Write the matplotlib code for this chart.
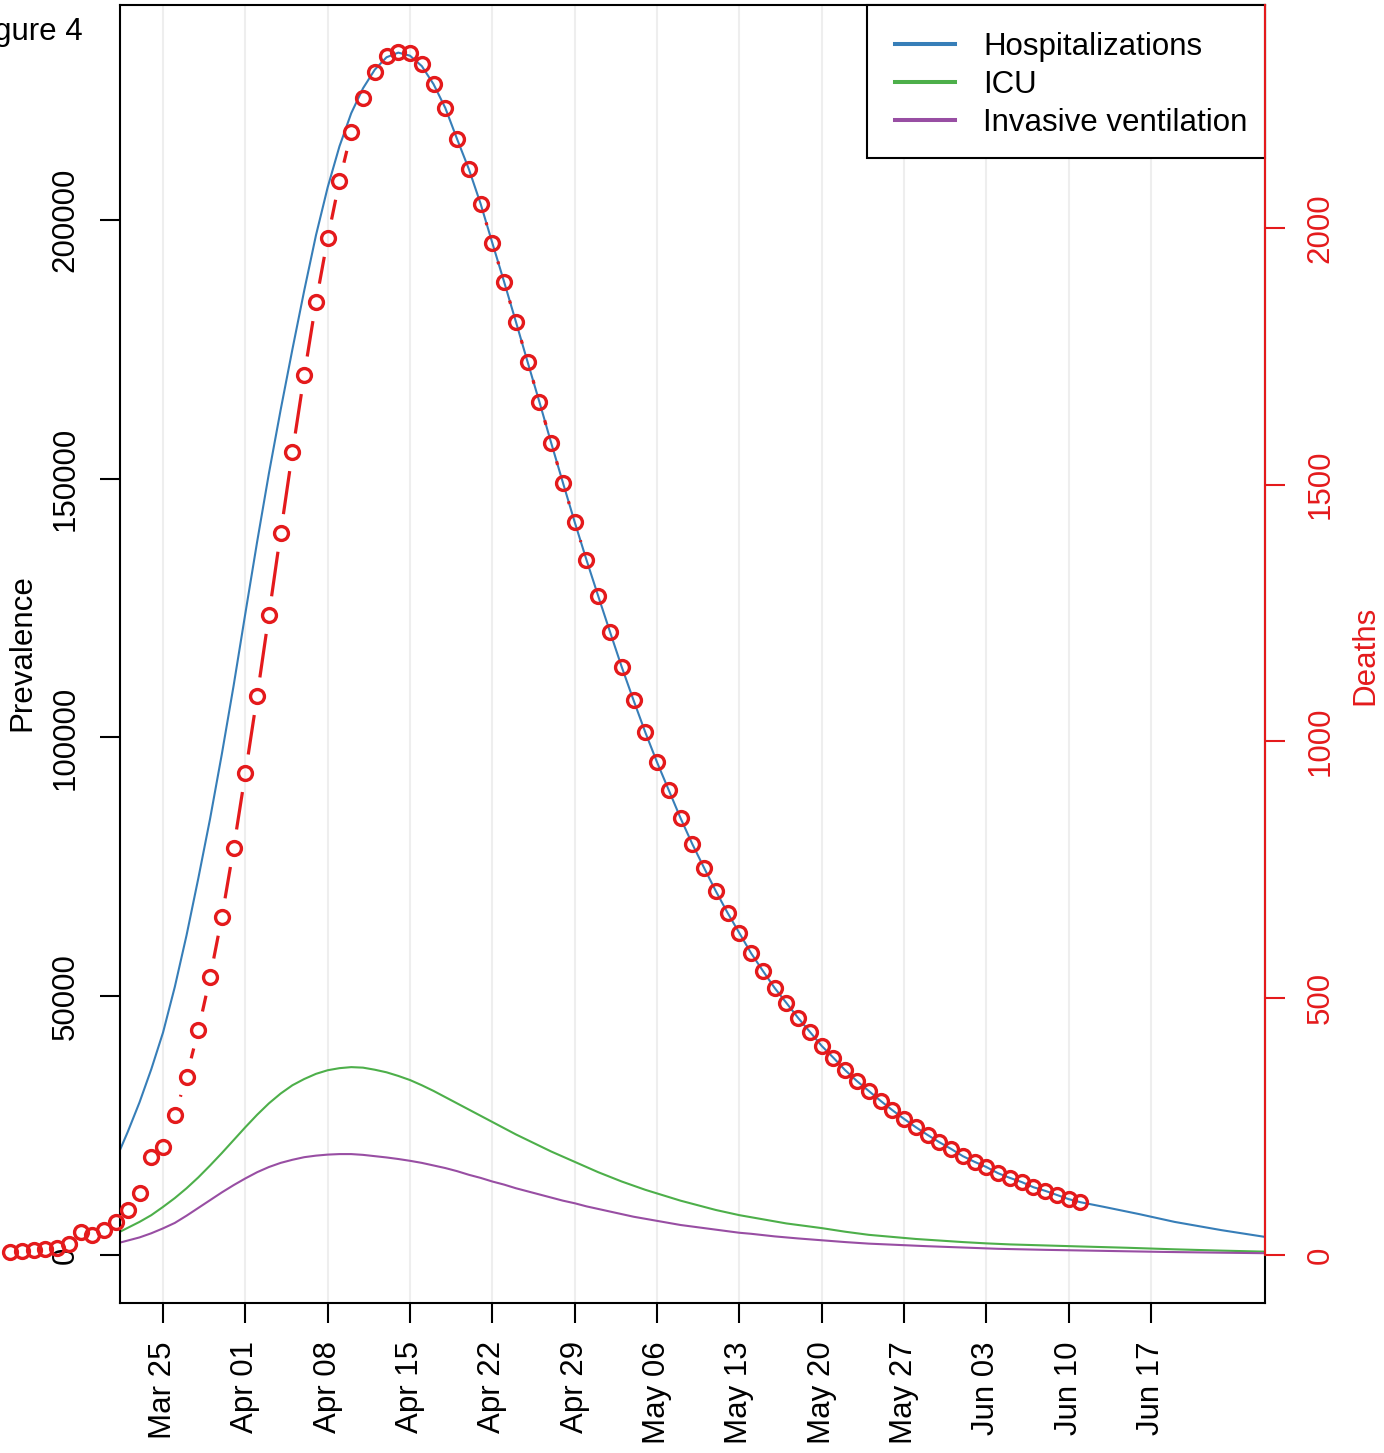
import numpy as np
import matplotlib
matplotlib.use("Agg")
import matplotlib.pyplot as plt
from matplotlib.patches import Rectangle

plt.rcParams['font.family'] = ['Liberation Sans', 'DejaVu Sans']

# x values are days counted from Mar 25
tick_days = [0, 7, 14, 21, 28, 35, 42, 49, 56, 63, 70, 77, 84]
tick_labels = ['Mar 25', 'Apr 01', 'Apr 08', 'Apr 15', 'Apr 22', 'Apr 29', 'May 06',
               'May 13', 'May 20', 'May 27', 'Jun 03', 'Jun 10', 'Jun 17']

hosp_days = [-3.66, -3, -2, -1, 0, 1, 2, 3, 4, 5, 6, 7, 8, 9, 10, 11, 12, 13, 14, 15,
             16, 17, 18, 19, 20, 21, 22, 23, 24, 25, 26, 27, 28, 29, 30, 31, 32, 33, 34,
             35, 36, 37, 38, 39, 40, 41, 42, 43, 44, 45, 46, 47, 48, 49, 50, 51, 52, 53,
             54, 55, 56, 57, 58, 59, 60, 61, 62, 63, 64, 65, 66, 67, 68, 69, 70, 71, 72,
             73, 74, 75, 76, 77, 78, 80, 83, 86, 90, 93.69]
hosp = [20300, 23800, 29500, 35900, 43000, 51800, 61800, 72800, 84300, 96800, 110000,
        124000, 137800, 151000, 163300, 175000, 186300, 197000, 206300, 214200, 220600,
        225400, 229000, 231400, 232300, 231700, 229700, 226200, 221600, 215600, 209800,
        203100, 195500, 188000, 180300, 172500, 164800, 156900, 149200, 141600, 134300,
        127300, 120400, 113600, 107200, 101000, 95200, 89800, 84400, 79400, 74800, 70300,
        66100, 62200, 58300, 54900, 51600, 48700, 45800, 43100, 40400, 38100, 35700,
        33600, 31700, 29800, 28000, 26300, 24700, 23200, 21800, 20500, 19100, 18000,
        17000, 15800, 14900, 14100, 13100, 12400, 11600, 10800, 10200, 9300, 7900, 6400,
        4800, 3500]

icu_days = [-3.66, -2, -1, 0, 1, 2, 3, 4, 5, 6, 7, 8, 9, 10, 11, 12, 13, 14, 15, 16, 17,
            18, 19, 20, 21, 22, 23, 24, 25, 26, 27, 28, 29, 30, 31, 32, 33, 34, 35, 36,
            37, 38, 39, 40, 41, 42, 43, 44, 45, 46, 47, 48, 49, 50, 51, 52, 53, 54, 55,
            56, 58, 60, 62, 64, 66, 68, 70, 72, 75, 78, 82, 86, 90, 93.69]
icu = [4500, 6400, 7700, 9300, 11000, 12900, 15000, 17300, 19700, 22200, 24700, 27100,
       29300, 31200, 32800, 34000, 35000, 35700, 36100, 36300, 36200, 35800, 35300, 34600,
       33800, 32800, 31700, 30500, 29300, 28100, 26900, 25700, 24500, 23300, 22200, 21100,
       20000, 19000, 18000, 17000, 16000, 15100, 14200, 13400, 12600, 11900, 11200, 10500,
       9900, 9300, 8700, 8200, 7700, 7300, 6900, 6500, 6100, 5800, 5500, 5200, 4500, 3900,
       3500, 3100, 2800, 2500, 2250, 2050, 1850, 1650, 1400, 1100, 850, 650]

vent_days = [-3.66, -2, -1, 0, 1, 2, 3, 4, 5, 6, 7, 8, 9, 10, 11, 12, 13, 14, 15, 16, 17,
             18, 19, 20, 21, 22, 23, 24, 25, 26, 27, 28, 29, 30, 31, 32, 33, 34, 35, 36,
             37, 38, 39, 40, 41, 42, 43, 44, 45, 46, 47, 48, 49, 50, 52, 54, 56, 58, 60,
             62, 65, 68, 71, 75, 80, 85, 90, 93.69]
vent = [2400, 3400, 4200, 5150, 6200, 7600, 9100, 10600, 12100, 13500, 14800, 16000,
        17000, 17800, 18400, 18900, 19200, 19400, 19500, 19500, 19350, 19100, 18850, 18550,
        18200, 17800, 17300, 16800, 16200, 15500, 14900, 14200, 13600, 12900, 12300, 11700,
        11100, 10500, 10000, 9400, 8900, 8400, 7900, 7400, 7000, 6600, 6200, 5800, 5500,
        5200, 4900, 4600, 4300, 4100, 3600, 3200, 2850, 2500, 2200, 2000, 1700, 1450, 1200,
        1000, 800, 600, 450, 350]

# daily deaths, Mar 12 .. Jun 11
death_days = list(range(-13, 79))
deaths = [6, 8, 10, 12, 14, 21, 45, 39, 49, 64, 88, 121, 191, 210, 273, 347, 438, 541,
          658, 792, 938, 1088, 1246, 1406, 1563, 1713, 1855, 1980, 2091, 2186, 2253, 2303,
          2334, 2342, 2340, 2319, 2280, 2233, 2173, 2114, 2046, 1970, 1894, 1817, 1739,
          1661, 1581, 1503, 1427, 1353, 1283, 1213, 1145, 1081, 1018, 960, 905, 851, 800,
          753, 709, 666, 627, 588, 553, 520, 491, 461, 434, 407, 384, 360, 339, 319, 300,
          282, 265, 249, 234, 220, 206, 193, 181, 171, 160, 150, 142, 132, 125, 117, 109,
          103]

blue, green, purple, red = '#377EB8', '#4DAF4A', '#984EA3', '#E41A1C'
fs = 22.5

fig = plt.figure(figsize=(13.84, 14.53), dpi=100)
ax = fig.add_axes([120/1384, 1-1303/1453, (1265-120)/1384, (1303-5)/1453])
ax.set_xlim(-3.66, 93.69)
ax.set_ylim(-9270, 241500)

for d in tick_days:
    ax.axvline(d, color='#EEEEEE', lw=1.5, zorder=0)

ax.plot(hosp_days, hosp, color=blue, lw=1.5, label='Hospitalizations')
ax.plot(icu_days, icu, color=green, lw=1.5, label='ICU')
ax.plot(vent_days, vent, color=purple, lw=1.5, label='Invasive ventilation')

ax.set_xticks(tick_days)
ax.set_xticklabels(tick_labels, rotation=90, fontsize=fs)
ax.set_yticks([0, 50000, 100000, 150000, 200000])
ax.set_yticklabels(['0', '50000', '100000', '150000', '200000'], fontsize=fs,
                   rotation=90, va='center')
ax.tick_params(axis='x', length=14.4, width=1.5, pad=13)
ax.tick_params(axis='y', length=14.4, width=1.5, pad=14)
for s in ax.spines.values():
    s.set_linewidth(1.5)

# legend box (R style: opaque, square)
ax.add_patch(Rectangle(((867-120)/1145, (1303-158)/1298), (1265-867)/1145, (158-5)/1298,
                       transform=ax.transAxes, facecolor='white', edgecolor='black',
                       lw=1.5, zorder=4, clip_on=False))
leg = ax.legend(loc='upper left', bbox_to_anchor=((895-120)/1145, (1303-32)/1298),
                fontsize=fs, frameon=False, borderpad=0, borderaxespad=0,
                handlelength=1.92, handletextpad=0.9, labelspacing=0.25)
leg.set_zorder(5)
for h in leg.get_lines():
    h.set_linewidth(2.9)

# deaths on a second axis
ax2 = ax.twinx()
ax2.set_ylim(-93.5, 2434)
for k in ['top', 'bottom', 'left']:
    ax2.spines[k].set_visible(False)
ax2.spines['right'].set_color(red)
ax2.spines['right'].set_linewidth(1.5)
ax2.spines['right'].set_bounds(0, 2434)
ax2.set_yticks([0, 500, 1000, 1500, 2000])
ax2.set_yticklabels(['0', '500', '1000', '1500', '2000'], fontsize=fs, rotation=90,
                    va='center', color=red)
ax2.tick_params(axis='y', length=14.4, width=1.5, pad=15, color=red)

ax2.plot(death_days, deaths, 'o', ms=10, mew=2.4, mfc='none', mec=red, clip_on=False)

# lines between points leave a gap around each point
pts = ax2.transData.transform(np.column_stack([death_days, deaths]))
inv = ax2.transData.inverted()
gap = 19
for p0, p1 in zip(pts[:-1], pts[1:]):
    dv = p1 - p0
    L = np.hypot(*dv)
    if L > 2 * gap:
        a = inv.transform(p0 + dv * gap / L)
        b = inv.transform(p1 - dv * gap / L)
        ax2.plot([a[0], b[0]], [a[1], b[1]], color=red, lw=2.3, clip_on=False,
                 solid_capstyle='butt')

fig.text(22/1384, 1-653/1453, 'Prevalence', rotation=90, ha='center', va='center',
         fontsize=fs)
fig.text(1365/1384, 1-655/1453, 'Deaths', rotation=90, ha='center', va='center',
         fontsize=fs, color=red)
fig.text(83/1384, 1-40/1453, 'Figure 4', ha='right', va='baseline', fontsize=fs)

fig.savefig('out.png', dpi=100)
